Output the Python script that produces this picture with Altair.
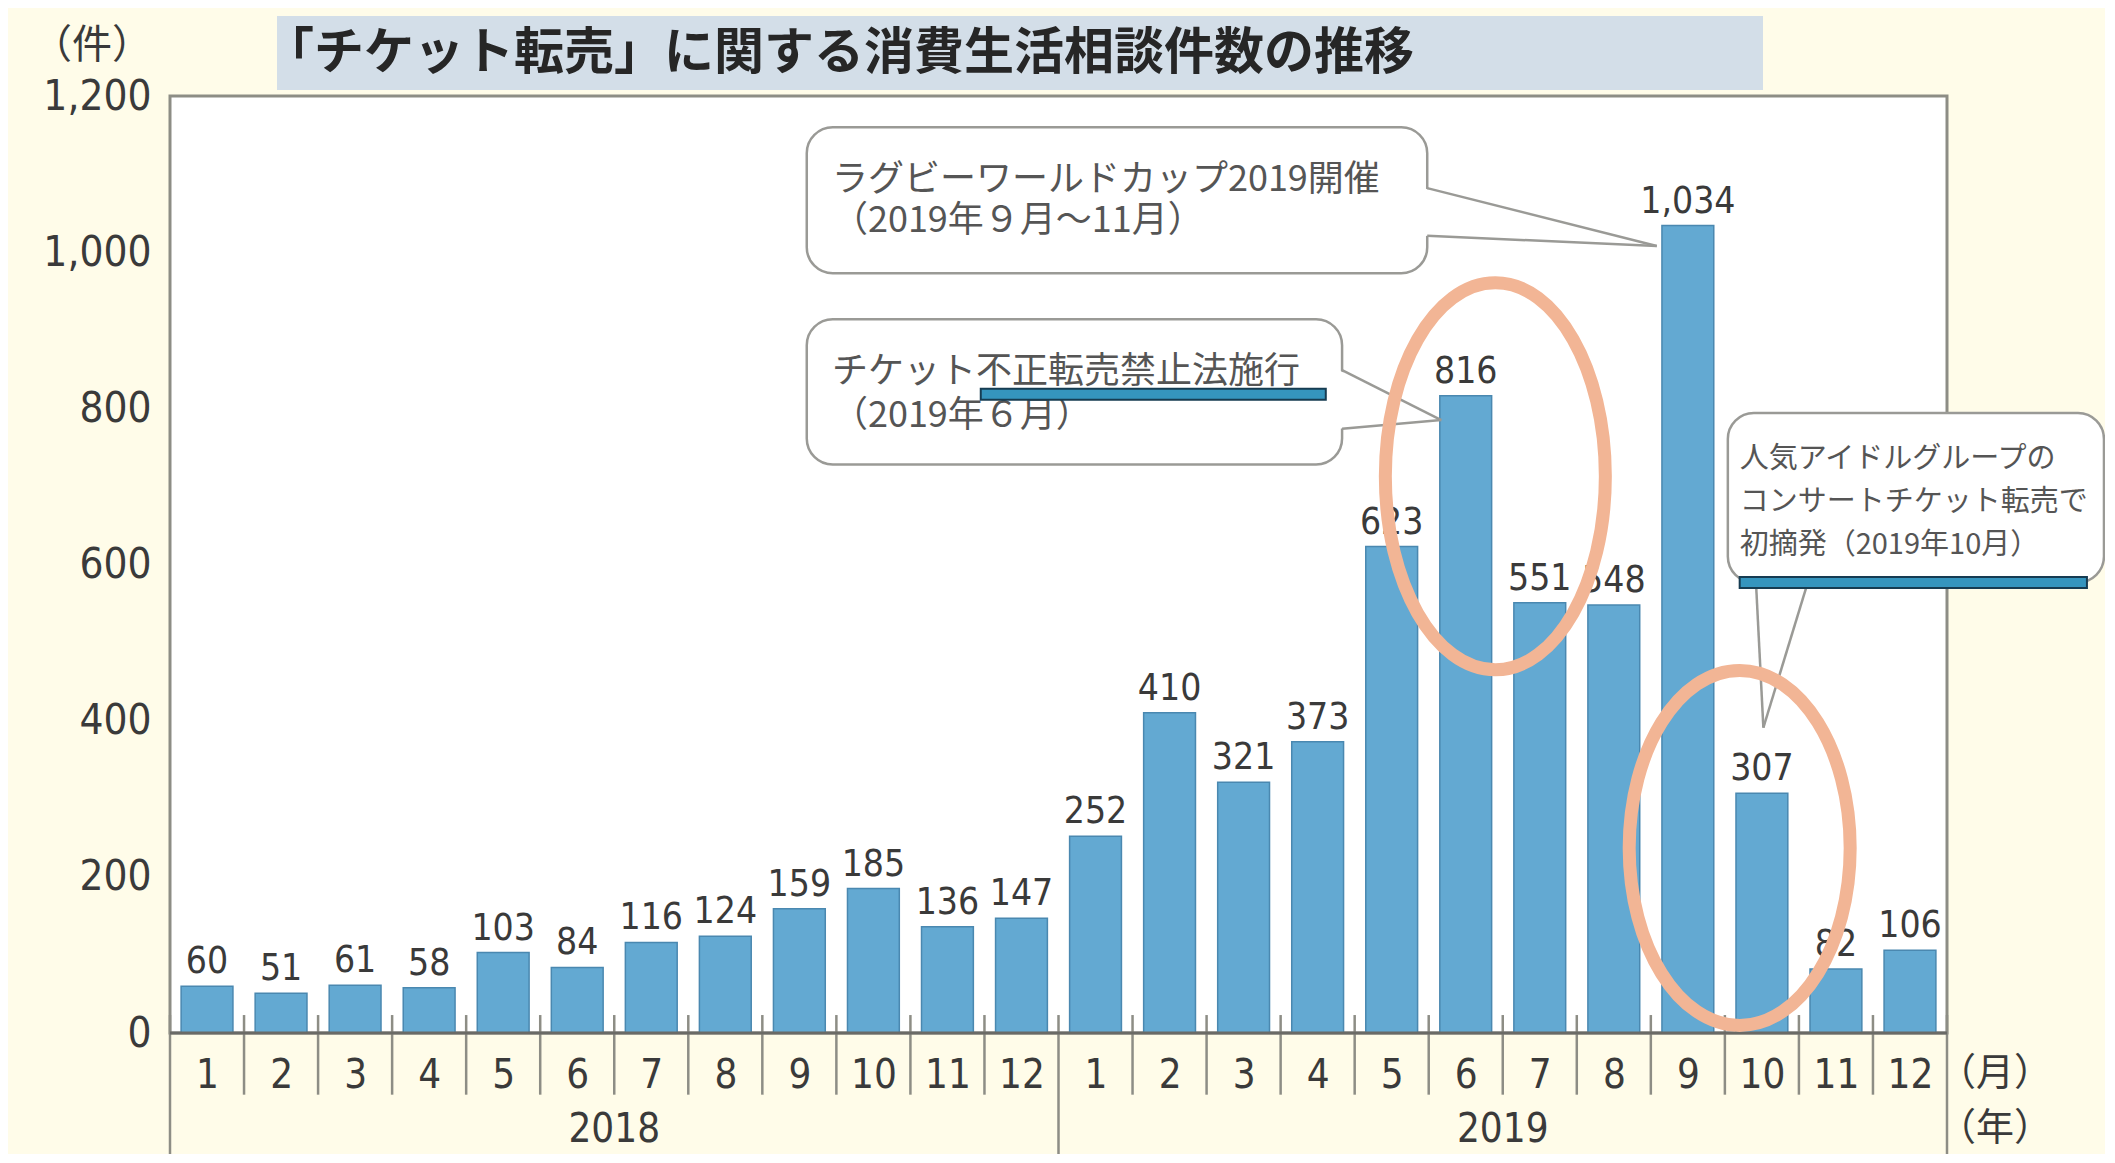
import altair as alt
import pandas as pd

# ---------------- data ----------------
years = ["2018"] * 12 + ["2019"] * 12
month_labels = [str(m) for m in range(1, 13)]
counts = [60, 51, 61, 58, 103, 84, 116, 124, 159, 185, 136, 147,
          252, 410, 321, 373, 623, 816, 551, 548, 1034, 307, 82, 106]
year_labels = ["2018", "2019"]
y_ticks = [0, 200, 400, 600, 800, 1000, 1200]

title_text = "「チケット転売」に関する消費生活相談件数の推移"
unit_y = "（件）"
unit_month = "（月）"
unit_year = "（年）"

# callouts (positions in data units: x = month slot, y = count)
callout_boxes_x = [8.60, 8.60, 21.04]
callout_boxes_x2 = [16.98, 15.83, 26.12]
callout_boxes_y = [1160, 914, 794]
callout_boxes_y2 = [973, 728, 577]

callout_big_text = ["ラグビーワールドカップ2019開催", "（2019年９月〜11月）",
                    "チケット不正転売禁止法施行", "（2019年６月）"]
callout_big_x = [8.94, 8.94, 8.94, 8.94]
callout_big_y = [1093, 1040, 846, 790]

callout_small_text = ["人気アイドルグループの", "コンサートチケット転売で", "初摘発（2019年10月）"]
callout_small_x = [21.2, 21.2, 21.2]
callout_small_y = [735, 680, 625]

# pointer segments (base -> tip)
seg_x = [16.98, 16.98, 15.83, 15.83, 21.42, 22.12]
seg_y = [1082, 1021, 849, 774, 577, 577]
seg_x2 = [20.08, 20.08, 17.17, 17.17, 21.52, 21.52]
seg_y2 = [1008, 1008, 785, 785, 391, 391]

# highlight ellipses
ell_x = [17.9, 21.2]
ell_y = [713, 237]
ell_w = [220, 221]
ell_h = [387, 355]

# blue underline marks
blue_x = [10.95, 21.2]
blue_x2 = [15.61, 25.89]
blue_y = [825, 584]
blue_y2 = [811, 570]

# ---------------- styles ----------------
NUMFONT = "DejaVu Sans Condensed, Liberation Sans Narrow, DejaVu Sans, sans-serif"
JPFONT = "Noto Sans CJK JP"
TXT = "#3a3a3a"
BAR = "#63A9D2"
BAR_EDGE = "#4A88B0"
GRAYLINE = "#8d8d85"
BG = "#FFFCE9"

W, H = 1777, 937

XS = alt.Scale(domain=[0, 24], nice=False, zero=False)
YS = alt.Scale(domain=[0, 1200], nice=False, zero=False)

label_arr = "[" + ",".join("'%s'" % m for m in month_labels) + "]"
XA = alt.Axis(values=[i + 0.5 for i in range(24)],
              labelExpr=label_arr + "[floor(datum.value) % 12]",
              title=None, ticks=False, tickSize=0, domain=False, grid=False,
              labelPadding=42, labelBaseline="middle", labelFontSize=40,
              labelFont=NUMFONT, labelColor=TXT, labelOverlap=False, labelFlush=False)
YA = alt.Axis(values=y_ticks, labelExpr="format(datum.value, ',.0f')", title=None,
              ticks=False, tickSize=0, domain=False, grid=False, labelPadding=19,
              labelFontSize=42, labelFont=NUMFONT, labelColor=TXT)


def X(f):
    return alt.X(f, type="quantitative", scale=XS, axis=XA)


def Y(f):
    return alt.Y(f, type="quantitative", scale=YS, axis=YA, stack=None)


df = pd.DataFrame({"i": list(range(24)), "year": years,
                   "month": month_labels * 2, "count": counts})

bars = alt.Chart(df).transform_calculate(
    x0="datum.i + 0.15", x1="datum.i + 0.85", zero="0"
).mark_bar(fill=BAR, stroke=BAR_EDGE, strokeWidth=1.5, clip=False).encode(
    x=X("x0"), x2="x1:Q", y=Y("count"), y2="zero:Q")

value_labels = alt.Chart(df).transform_calculate(
    xc="datum.i + 0.5"
).mark_text(font=NUMFONT, fontSize=37, color=TXT, baseline="alphabetic",
            dy=-13, clip=False).encode(
    x=X("xc"), y=Y("count"), text=alt.Text("count:Q", format=",.0f"))

# separators
sep_month = pd.DataFrame({"x": [i for i in range(1, 24) if i != 12]})
sep_m = alt.Chart(sep_month).transform_calculate(
    y="23", y2="-79").mark_rule(color=GRAYLINE, strokeWidth=2.5, clip=False).encode(
    x=X("x"), y=Y("y"), y2="y2:Q")
sep_year = pd.DataFrame({"x": [0, 12, 24]})
sep_y = alt.Chart(sep_year).transform_calculate(
    y="23", y2="-175").mark_rule(color=GRAYLINE, strokeWidth=2.5, clip=False).encode(
    x=X("x"), y=Y("y"), y2="y2:Q")

baseline = alt.Chart(pd.DataFrame({"x": [0], "x2": [24], "y": [0]})).mark_rule(
    color="#6a6a66", strokeWidth=3, clip=False).encode(x=X("x"), x2="x2:Q", y=Y("y"))

# year labels below axis
year_df = pd.DataFrame({"label": year_labels, "x": [6, 18]})
year_text = alt.Chart(year_df).mark_text(
    font=NUMFONT, fontSize=40, color=TXT, baseline="middle", clip=False).encode(
    x=X("x"), y=alt.value(H + 97), text="label:N")

unit_m = alt.Chart(pd.DataFrame({"t": [unit_month]})).mark_text(
    font=JPFONT, fontSize=38, color=TXT, baseline="middle", clip=False).encode(
    x=alt.value(W + 48), y=alt.value(H + 41), text="t:N")
unit_yr = alt.Chart(pd.DataFrame({"t": [unit_year]})).mark_text(
    font=JPFONT, fontSize=38, color=TXT, baseline="middle", clip=False).encode(
    x=alt.value(W + 48), y=alt.value(H + 96), text="t:N")
unit_left = alt.Chart(pd.DataFrame({"t": [unit_y]})).mark_text(
    font=JPFONT, fontSize=40, color=TXT, baseline="middle", clip=False).encode(
    x=alt.value(-78), y=alt.value(-50), text="t:N")

# title box
title_box = alt.Chart(pd.DataFrame({"a": [0]})).mark_rect(
    fill="#D3DEE8", clip=False).encode(
    x=alt.value(107), x2=alt.value(1593), y=alt.value(-80), y2=alt.value(-6))
title = alt.Chart(pd.DataFrame({"t": [title_text]})).mark_text(
    font=JPFONT, fontSize=50, fontWeight="bold", color="#262626",
    align="left", baseline="middle", clip=False).encode(
    x=alt.value(94), y=alt.value(-42), text="t:N")

# callout boxes
box_df = pd.DataFrame({"x": callout_boxes_x, "x2": callout_boxes_x2,
                       "y": callout_boxes_y, "y2": callout_boxes_y2})
boxes = alt.Chart(box_df).mark_rect(
    fill="white", stroke="#9a9a96", strokeWidth=2.5, cornerRadius=26, clip=False).encode(
    x=X("x"), x2="x2:Q", y=Y("y"), y2="y2:Q")

# pointer fills
ptr_v = pd.DataFrame({
    "pid": ["a", "a", "b", "b"],
    "x": [seg_x[0] - 0.05, seg_x2[0], seg_x[2] - 0.05, seg_x2[2]],
    "y": [seg_y[0], seg_y2[0], seg_y[2], seg_y2[2]],
    "y2": [seg_y[1], seg_y2[1], seg_y[3], seg_y2[3]],
})
ptr_fill_v = alt.Chart(ptr_v).mark_area(fill="white", orient="vertical", clip=False).encode(
    x=X("x"), y=Y("y"), y2="y2:Q", detail="pid:N")
ptr_h = pd.DataFrame({
    "y": [seg_y[4] + 3, seg_y2[4]],
    "x": [seg_x[4], seg_x2[4]],
    "x2": [seg_x[5], seg_x2[5]],
})
ptr_fill_h = alt.Chart(ptr_h).mark_area(fill="white", orient="horizontal", clip=False).encode(
    y=Y("y"), x=X("x"), x2="x2:Q")

seg_df = pd.DataFrame({"x": seg_x, "y": seg_y, "x2": seg_x2, "y2": seg_y2})
ptr_lines = alt.Chart(seg_df).mark_rule(color="#9a9a96", strokeWidth=2.5, clip=False).encode(
    x=X("x"), y=Y("y"), x2="x2:Q", y2="y2:Q")

big_df = pd.DataFrame({"t": callout_big_text, "x": callout_big_x, "y": callout_big_y})
big_text = alt.Chart(big_df).mark_text(
    font=JPFONT, fontSize=36, color="#555555", align="left", baseline="middle",
    clip=False).encode(x=X("x"), y=Y("y"), text="t:N")
small_df = pd.DataFrame({"t": callout_small_text, "x": callout_small_x, "y": callout_small_y})
small_text = alt.Chart(small_df).mark_text(
    font=JPFONT, fontSize=29, color="#555555", align="left", baseline="middle",
    clip=False).encode(x=X("x"), y=Y("y"), text="t:N")

# blue underline marks
blue_df = pd.DataFrame({"x": blue_x, "x2": blue_x2, "y": blue_y, "y2": blue_y2})
blue = alt.Chart(blue_df).mark_rect(
    fill="#3595BE", stroke="#163C52", strokeWidth=2, clip=False).encode(
    x=X("x"), x2="x2:Q", y=Y("y"), y2="y2:Q")


# ellipses
def ellipse_path(r):
    k = 0.5523
    return ("M0,-1 C{a},-1 {r},-{k} {r},0 C{r},{k} {a},1 0,1 "
            "C-{a},1 -{r},{k} -{r},0 C-{r},-{k} -{a},-1 0,-1 Z").format(
        a=round(k * r, 4), r=round(r, 4), k=k)


ellipses = []
for ex, ey, ew, eh in zip(ell_x, ell_y, ell_w, ell_h):
    ellipses.append(
        alt.Chart(pd.DataFrame({"x": [ex], "y": [ey]})).mark_point(
            shape=ellipse_path(ew / eh), size=eh * eh, filled=False,
            stroke="#F2B595", strokeWidth=13, opacity=1, clip=False).encode(
            x=X("x"), y=Y("y")))

chart = alt.layer(
    title_box, title, unit_left,
    bars, sep_m, sep_y, baseline, value_labels, year_text, unit_m, unit_yr,
    boxes, ptr_fill_v, ptr_fill_h, ptr_lines, big_text, small_text, blue,
    *ellipses
).properties(
    width=W, height=H,
    autosize=alt.AutoSizeParams(type="none"),
    padding={"left": 162, "top": 88, "right": 158, "bottom": 121},
).configure(background=BG).configure_view(
    fill="white", stroke=GRAYLINE, strokeWidth=3)

chart.save("out.html", embed_options={"renderer": "svg", "actions": False})
